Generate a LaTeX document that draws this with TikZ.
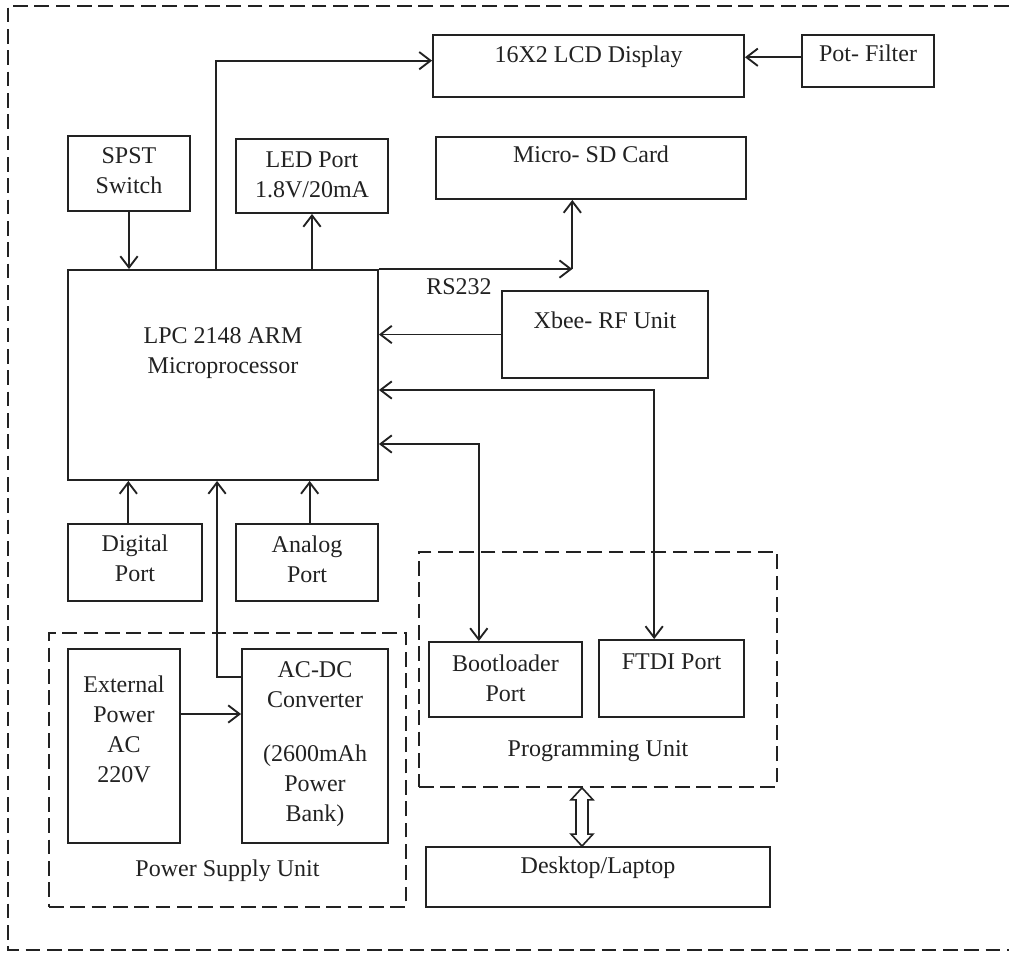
\documentclass[tikz,border=0pt]{standalone}
\usepackage{fontspec}
\setmainfont{Liberation Serif}
\usetikzlibrary{arrows.meta,calc,fit,positioning}
\definecolor{ink}{HTML}{222222}
\tikzset{
  unitbox/.style={draw=ink, line width=1.4pt, inner sep=0pt},
  groupbox/.style={draw=ink, line width=1.2pt, dash pattern=on 11pt off 5pt, inner sep=0pt},
  unittext/.style={font=\fontsize{18}{22.5}\selectfont, text=ink, align=center, inner sep=0pt},
  link/.style={line width=1.4pt, draw=ink, -{Straight Barb[length=8.5pt,width=13pt]}},
  duplex/.style={line width=1.4pt, draw=ink, {Straight Barb[length=8.5pt,width=13pt]}-{Straight Barb[length=8.5pt,width=13pt]}},
  widelink/.style={draw=ink, line width=1.2pt, line join=miter}
}

\begin{document}
\begin{tikzpicture}[x=0.75pt,y=-0.75pt]
\useasboundingbox (0,0) rectangle (1009,953);
\fill[white] (0,0) rectangle (1009,953);

% outer frame
\draw[groupbox] (1009,6) -- (8,6) -- (8,950) -- (1009,950);

% top row
\node[unitbox, fit={(433,35) (744,97)}] (lcd) {};
\node[unittext, below=9pt of lcd.north] (lcdtext) {16X2 LCD Display};
\node[unitbox, fit={(802,35) (934,87)}] (pot) {};
\node[unittext, below=8pt of pot.north] (pottext) {Pot- Filter};
\node[unitbox, fit={(436,137) (746,199)}] (sd) {};
\node[unittext, below=7.5pt of sd.north] (sdtext) {Micro- SD Card};
\node[unitbox, fit={(68,136) (190,211)}] (spst) {};
\node[unittext, below=9pt of spst.north] (spsttext) {SPST\\Switch};
\node[unitbox, fit={(236,139) (388,213)}] (led) {};
\node[unittext, below=9.75pt of led.north] (ledtext) {LED Port\\1.8V/20mA};

% controller
\node[unitbox, fit={(68,270) (378,480)}] (lpc) {};
\node[unittext, below=44pt of lpc.north] (lpctext) {LPC 2148 ARM\\Microprocessor};
\node[unitbox, fit={(502,291) (708,378)}] (xbee) {};
\node[unittext, below=16.5pt of xbee.north] (xbeetext) {Xbee- RF Unit};
\node[unittext] (rslabel) at (459,287) {RS232};

% ports
\node[unitbox, fit={(68,524) (202,601)}] (digital) {};
\node[unittext, below=9pt of digital.north] (digitaltext) {Digital\\Port};
\node[unitbox, fit={(236,524) (378,601)}] (analog) {};
\node[unittext, below=9.75pt of analog.north] (analogtext) {Analog\\Port};

% power supply unit
\node[groupbox, fit={(49,633) (406,907)}] (psu) {};
\node[unittext, above=19.5pt of psu.south] (psutext) {Power Supply Unit};
\node[unitbox, fit={(68,649) (180,843)}] (ext) {};
\node[unittext, below=21pt of ext.north] (exttext) {External\\Power\\AC\\220V};
\node[unitbox, fit={(242,649) (388,843)}] (acdc) {};
\node[unittext, below=10pt of acdc.north] (acdctext) {AC-DC\\Converter\\[18pt](2600mAh\\Power\\Bank)};

% programming unit
\node[groupbox, fit={(419,552) (777,787)}] (prog) {};
\node[unittext, above=19.5pt of prog.south] (progtext) {Programming Unit};
\node[unitbox, fit={(429,642) (582,717)}] (boot) {};
\node[unittext, below=10pt of boot.north] (boottext) {Bootloader\\Port};
\node[unitbox, fit={(599,640) (744,717)}] (ftdi) {};
\node[unittext, below=11pt of ftdi.north] (ftditext) {FTDI Port};
\node[unitbox, fit={(426,847) (770,907)}] (desk) {};
\node[unittext, below=7.5pt of desk.north] (desktext) {Desktop/Laptop};

% connections
\coordinate (sdin) at ([xshift=-14pt]sd.south);
\coordinate (rsbend) at (sdin |- lpc.north);
\draw[link] ($(lpc.north west)+(149,0)$) |- ([yshift=4pt]lcd.west);
\draw[link] (pot.west |- lcdtext.west) -- (lcd.east |- lcdtext.west);
\draw[link] (spst.south) -- (spst.south |- lpc.north);
\draw[link] (led.south |- lpc.north) -- (led.south);
\draw[link] (lpc.north east) -- (rsbend);
\draw[link] (rsbend) -- (sdin);
\draw[link] (xbee.west) -- (xbee.west -| lpc.east);
\draw[duplex] ([yshift=-11.25pt]lpc.east) -| ([xshift=-13pt]ftdi.north);
\draw[duplex] ([yshift=-51.75pt]lpc.east) -| ([xshift=-20pt]boot.north);
\draw[link] ([xshift=-5pt]digital.north) -- ([xshift=-5pt]digital.north |- lpc.south);
\draw[link] ([xshift=2pt]analog.north) -- ([xshift=2pt]analog.north |- lpc.south);
\draw[link] ([yshift=51.75pt]acdc.west) -| ($(lpc.south west)+(150,0)$);
\draw[link] ([yshift=24pt]ext.east) -- ([yshift=24pt]ext.east -| acdc.west);

% hollow up-down arrow
\coordinate (dtop) at ([xshift=-12pt]prog.south);
\coordinate (dbot) at ([xshift=-12pt]desk.north);
\draw[widelink] (dtop) -- ++(11,12) -- ++(-5,0) -- ($(dbot)+(6,-12)$) -- ++(5,0)
  -- (dbot) -- ++(-11,-12) -- ++(5,0) -- ($(dtop)+(-6,12)$) -- ++(-5,0) -- cycle;

\end{tikzpicture}
\end{document}
